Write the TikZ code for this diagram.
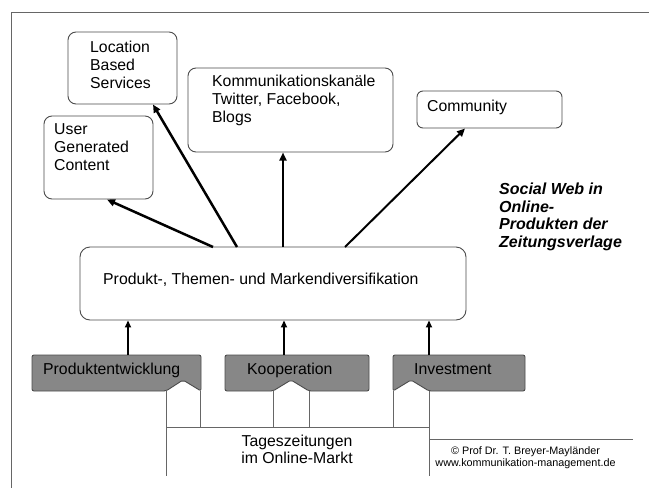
\documentclass[tikz,border=0pt]{standalone}
\usepackage{fontspec}
\setmainfont{Liberation Sans}
\usetikzlibrary{arrows.meta,calc}
\begin{document}
\begin{tikzpicture}[x=1pt,y=-1pt,
  box/.style={draw=black!70, line width=0.9pt, rounded corners=8pt, fill=white, inner sep=0pt},
  txt/.style={anchor=north west, inner sep=0pt, align=left, font=\fontsize{15.8}{18}\selectfont},
  stxt/.style={anchor=base west, inner sep=0pt, font=\fontsize{15.8}{18}\selectfont},
  gbox/.style={draw=black!70, fill=black!47, line width=0.9pt, rounded corners=2pt},
  pipe/.style={draw=black!60, line width=0.9pt},
  arr/.style={line width=2.5pt, -{Triangle[length=8pt,width=7pt]}},
  arrb/.style={line width=2pt, -{Triangle[length=7pt,width=6pt]}},
]
\useasboundingbox[fill=white] (0,0) rectangle (649,488);
% frame
\draw[pipe] (11,488) -- (11,12) -- (649,12);

% top boxes
\node[box, minimum width=109pt, minimum height=72pt] (lbs) at (122.5,68) {};
\node[box, minimum width=109pt, minimum height=83pt] (ugc) at (98.5,157.5) {};
\node[box, minimum width=205pt, minimum height=84pt] (kom) at (290.5,110) {};
\node[box, minimum width=145pt, minimum height=37pt, rounded corners=6pt] (com) at (489.5,109.5) {};
\node[box, minimum width=386pt, minimum height=73pt, rounded corners=10pt] (main) at (273,283.5) {};

\node[txt] (tlbs) at (90,40.5) {Location\\Based\\Services};
\node[txt] (tugc) at (54,123.5) {User\\Generated\\Content};
\node[txt] (tkom) at (212,74.5) {Kommunikationskanäle\\Twitter, Facebook,\\Blogs};
\node[stxt] (tcom) at (427,111.5) {Community};
\node[stxt] (tmain) at (103,284.5) {Produkt-, Themen- und Markendiversifikation};

% title
\node[txt, font=\fontsize{16}{17.5}\selectfont\bfseries\itshape] (title) at (499,183) {Social Web in\\Online-\\Produkten der\\Zeitungsverlage};

% gray boxes
\draw[gbox] (32,391) -- (32,355) -- (201,355) -- (201,391) -- (183,380) -- (166,391) -- cycle;
\draw[gbox] (225,391) -- (225,355) -- (369,355) -- (369,391) -- (309,391) -- (291,380) -- (273,391) -- cycle;
\draw[gbox] (393,391) -- (393,355) -- (525,355) -- (525,391) -- (429,391) -- (411,380) -- cycle;
\node[stxt] (tpe) at (43,374) {Produktentwicklung};
\node[stxt] (tko) at (247,374) {Kooperation};
\node[stxt] (tin) at (414,374) {Investment};

% Tageszeitungen frame
\draw[pipe] (166,391) -- (166,476);
\draw[pipe] (429,391) -- (429,476);
\draw[pipe] (166,427) -- (429,427);
\draw[pipe] (200,391) -- (200,427);
\draw[pipe] (273,391) -- (273,427);
\draw[pipe] (309,391) -- (309,427);
\draw[pipe] (393,391) -- (393,427);
\node[anchor=north, inner sep=0pt, align=center, font=\fontsize{15.8}{17}\selectfont] (tz) at (297,434.5) {Tageszeitungen\\im Online-Markt};

% copyright
\draw[pipe] (429,439) -- (633,439);
\node[anchor=north, inner sep=0pt, align=center, font=\fontsize{10.8}{12.5}\selectfont] (copy) at (525.5,446) {© Prof Dr. T. Breyer-Mayländer\\www.kommunikation-management.de};

% arrows up
\coordinate (s1) at (213,247);
\coordinate (s2) at (237,247);
\coordinate (s3) at (283,247);
\coordinate (s4) at (345,247);
\coordinate (e1) at (107,199.5);
\coordinate (e2) at (153,104.5);
\coordinate (e3) at (283,152.5);
\coordinate (e4) at (465,128.5);
\draw[arr] (s1) -- (e1);
\draw[arr] (s2) -- (e2);
\draw[arr] (s3) -- (e3);
\draw[arr, line width=2pt] (s4) -- (e4);

% arrows from gray boxes
\coordinate (b1) at (128,355);
\coordinate (b2) at (284,355);
\coordinate (b3) at (429,355);
\draw[arrb] (b1) -- (b1 |- main.south);
\draw[arrb] (b2) -- (b2 |- main.south);
\draw[arrb] (b3) -- (b3 |- main.south);
\end{tikzpicture}
\end{document}
